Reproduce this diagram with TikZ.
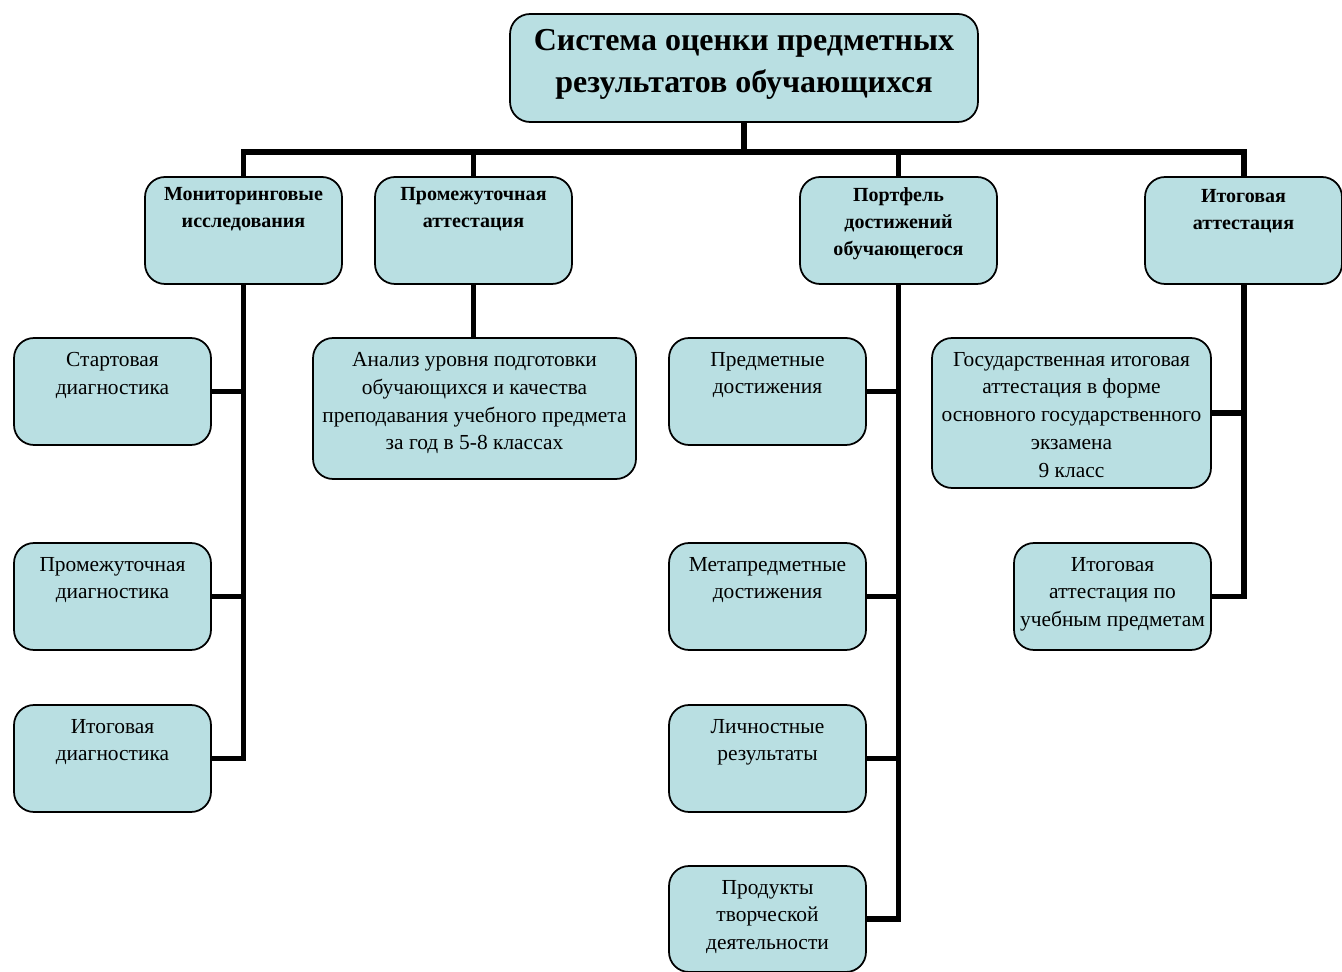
\documentclass[tikz,border=0pt]{standalone}
\usepackage{fontspec}
\setmainfont{Liberation Serif}
\usetikzlibrary{positioning}
\definecolor{boxfill}{RGB}{185,223,226}
\tikzset{
	box/.style={draw, line width=1pt, rounded corners=0.4cm, fill=boxfill, minimum width=3.94cm, minimum height=2.14cm, inner sep=0pt},
	head/.style={anchor=north, align=center, inner sep=0pt, yshift=-0.22cm, font=\bfseries\fontsize{11.4}{15.3}\selectfont},
	body/.style={anchor=north, align=center, inner sep=0pt, yshift=-0.29cm, font=\fontsize{12.2}{15.9}\selectfont},
	link/.style={line width=3.4pt},
}
\begin{document}
\begin{tikzpicture}[x=0.02cm, y=-0.02cm]
	\useasboundingbox (0,0) rectangle (1342,972);

	% top
	\node[box, minimum width=9.36cm, minimum height=2.16cm](title) at (744,68) {};
	\node[anchor=north, align=center, inner sep=0pt, yshift=-0.32cm, font=\bfseries\fontsize{18.2}{23.8}\selectfont](title-t) at (title.north) {Система оценки предметных\\результатов обучающихся};

	% second row
	\node[box](mon) at (243.5,230.5) {};
	\node[head](mon-t) at (mon.north) {Мониторинговые\\исследования};
	\node[box](prom) at (473.5,230.5) {};
	\node[head](prom-t) at (prom.north) {Промежуточная\\аттестация};
	\node[box](portf) at (898.5,230.5) {};
	\node[head](portf-t) at (portf.north) {Портфель\\достижений\\обучающегося};
	\node[box](itog) at (1243.5,230.5) {};
	\node[head, yshift=-0.04cm](itog-t) at (itog.north) {Итоговая\\аттестация};

	% monitoring
	\node[box](start) at (112.5,391.5) {};
	\node[body](start-t) at (start.north) {Стартовая\\диагностика};
	\node[box](prdiag) at (112.5,596.5) {};
	\node[body](prdiag-t) at (prdiag.north) {Промежуточная\\диагностика};
	\node[box](itdiag) at (112.5,758.5) {};
	\node[body](itdiag-t) at (itdiag.north) {Итоговая\\диагностика};

	% intermediate
	\node[box, minimum width=6.46cm, minimum height=2.82cm](anal) at (474.5,408.5) {};
	\node[body](anal-t) at (anal.north) {Анализ уровня подготовки\\обучающихся и качества\\преподавания учебного предмета\\за год в 5-8 классах};

	% portfolio
	\node[box](predm) at (767.5,391.5) {};
	\node[body](predm-t) at (predm.north) {Предметные\\достижения};
	\node[box](meta) at (767.5,596.5) {};
	\node[body](meta-t) at (meta.north) {Метапредметные\\достижения};
	\node[box](lich) at (767.5,758.5) {};
	\node[body](lich-t) at (lich.north) {Личностные\\результаты};
	\node[box, minimum height=2.12cm](prod) at (767.5,919) {};
	\node[body](prod-t) at (prod.north) {Продукты\\творческой\\деятельности};

	% final
	\node[box, minimum width=5.58cm, minimum height=3cm](gia) at (1071.5,413) {};
	\node[body](gia-t) at (gia.north) {Государственная итоговая\\аттестация в форме\\основного государственного\\экзамена\\9 класс};
	\node[box](itpred) at (1112.5,596.5) {};
	\node[body](itpred-t) at (itpred.north) {Итоговая\\аттестация по\\учебным предметам};

	\coordinate(bus) at (744,152);
	\draw[link](title.south) -- (bus);
	\draw[link](mon.north) -- (mon.north |- bus) -- (itog.north |- bus) -- (itog.north);
	\draw[link](prom.north) -- (prom.north |- bus);
	\draw[link](portf.north) -- (portf.north |- bus);

	\draw[link](mon.south) |- (itdiag.east);
	\draw[link](start.east) -- (start.east -| mon.south);
	\draw[link](prdiag.east) -- (prdiag.east -| mon.south);

	\draw[link](prom.south) -- (prom.south |- anal.north);

	\draw[link](portf.south) |- (prod.east);
	\draw[link](predm.east) -- (predm.east -| portf.south);
	\draw[link](meta.east) -- (meta.east -| portf.south);
	\draw[link](lich.east) -- (lich.east -| portf.south);

	\draw[link](itog.south) |- (itpred.east);
	\draw[link](gia.east) -- (gia.east -| itog.south);
\end{tikzpicture}
\end{document}
